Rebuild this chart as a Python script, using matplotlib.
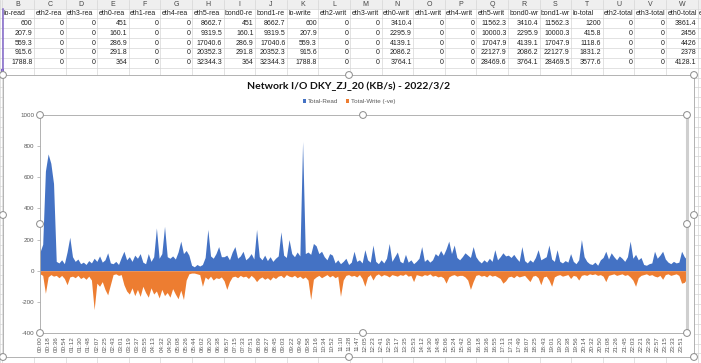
import numpy as np
import matplotlib
matplotlib.use('Agg')
import matplotlib.pyplot as plt
from matplotlib.patches import Rectangle, Circle
from matplotlib.transforms import Bbox

plt.rcParams['font.family'] = ['Liberation Sans', 'DejaVu Sans']
plt.rcParams['axes.unicode_minus'] = False

# spreadsheet part
col_letters = ['B', 'C', 'D', 'E', 'F', 'G', 'H', 'I', 'J', 'K', 'L', 'M',
               'N', 'O', 'P', 'Q', 'R', 'S', 'T', 'U', 'V', 'W', 'X']
col_names = ['lo-read', 'eth2-read', 'eth3-read', 'eth0-read', 'eth1-read',
             'eth4-read', 'eth5-read', 'bond0-read', 'bond1-read', 'lo-write',
             'eth2-write', 'eth3-write', 'eth0-write', 'eth1-write', 'eth4-write',
             'eth5-write', 'bond0-write', 'bond1-write', 'lo-total', 'eth2-total',
             'eth3-total', 'eth0-total', 'eth1-total']
row2 = ['600', '0', '0', '451', '0', '0', '8662.7', '451', '8662.7', '600', '0', '0',
        '3410.4', '0', '0', '11562.3', '3410.4', '11562.3', '1200', '0', '0', '3861.4', '']
row3 = ['207.9', '0', '0', '160.1', '0', '0', '9319.5', '160.1', '9319.5', '207.9', '0', '0',
        '2295.9', '0', '0', '10000.3', '2295.9', '10000.3', '415.8', '0', '0', '2456', '']
row4 = ['559.3', '0', '0', '286.9', '0', '0', '17040.6', '286.9', '17040.6', '559.3', '0', '0',
        '4139.1', '0', '0', '17047.9', '4139.1', '17047.9', '1118.6', '0', '0', '4426', '']
row5 = ['915.6', '0', '0', '291.8', '0', '0', '20352.3', '291.8', '20352.3', '915.6', '0', '0',
        '2086.2', '0', '0', '22127.9', '2086.2', '22127.9', '1831.2', '0', '0', '2378', '']
row6 = ['1788.8', '0', '0', '364', '0', '0', '32344.3', '364', '32344.3', '1788.8', '0', '0',
        '3764.1', '0', '0', '28469.6', '3764.1', '28469.5', '3577.6', '0', '0', '4128.1', '']
table_rows = [row2, row3, row4, row5, row6]

# chart part
title = 'Network I/O DKY_ZJ_20 (KB/s) - 2022/3/2'
times = ['00:00', '00:18', '00:36', '00:54', '01:12', '01:30', '01:48', '02:07', '02:25', '02:43',
         '03:01', '03:19', '03:37', '03:55', '04:13', '04:32', '04:50', '05:08', '05:26', '05:44',
         '06:02', '06:20', '06:38', '06:57', '07:15', '07:33', '07:51', '08:09', '08:27', '08:45',
         '09:03', '09:22', '09:40', '09:58', '10:16', '10:34', '10:52', '11:10', '11:28', '11:47',
         '12:05', '12:23', '12:41', '12:59', '13:17', '13:35', '13:53', '14:12', '14:30', '14:48',
         '15:06', '15:24', '15:42', '16:00', '16:18', '16:36', '16:55', '17:13', '17:31', '17:49',
         '18:07', '18:25', '18:43', '19:01', '19:20', '19:38', '19:56', '20:14', '20:32', '20:50',
         '21:08', '21:26', '21:45', '22:03', '22:21', '22:39', '22:57', '23:15', '23:33', '23:51']
points_per_label = 3

total_read = [120, 170, 640, 750, 690, 560, 60, 50, 70, 45, 120, 215,
              90, 60, 75, 45, 55, 40, 65, 50, 80, 60, 95, 55,
              70, 115, 50, 45, 60, 40, 85, 125, 70, 90, 60, 100,
              80, 110, 55, 45, 110, 60, 90, 275, 80, 110, 285, 90,
              80, 95, 75, 120, 190, 110, 130, 100, 35, 25, 40, 30,
              40, 85, 265, 95, 80, 110, 155, 90, 90, 100, 70, 120,
              155, 80, 95, 125, 70, 85, 110, 75, 265, 90, 70, 100,
              65, 90, 60, 80, 95, 250, 100, 85, 200, 110, 90, 120,
              95, 830, 110, 120, 105, 175, 160, 110, 125, 90, 70, 110,
              100, 50, 70, 45, 60, 80, 40, 55, 125, 60, 70, 50,
              135, 70, 55, 165, 60, 45, 70, 50, 80, 175, 60, 90,
              120, 60, 50, 105, 55, 70, 45, 60, 80, 155, 60, 75,
              55, 70, 110, 95, 130, 100, 140, 190, 110, 165, 85, 70,
              90, 115, 100, 85, 155, 90, 65, 50, 70, 55, 80, 60,
              135, 70, 90, 115, 95, 100, 85, 105, 80, 60, 155, 65,
              50, 70, 55, 85, 135, 70, 80, 90, 165, 75, 60, 135,
              60, 50, 65, 55, 110, 60, 45, 70, 200, 90, 60, 45,
              40, 55, 35, 70, 85, 125, 75, 115, 90, 70, 95, 80,
              60, 90, 190, 80, 105, 70, 85, 40, 35, 45, 50, 125,
              80, 100, 125, 75, 55, 45, 60, 50, 55, 125, 90, 70]

total_write = [-20, -30, -145, -40, -25, -35, -30, -45, -30, -50, -90, -40,
               -35, -45, -30, -50, -40, -55, -35, -60, -250, -80, -100, -70,
               -120, -155, -90, -25, -20, -30, -25, -90, -130, -150, -110, -160,
               -120, -165, -100, -140, -170, -110, -150, -130, -175, -120, -160, -140,
               -170, -115, -150, -180, -125, -185, -60, -20, -15, -15, -20, -25,
               -100, -40, -55, -35, -60, -45, -50, -40, -65, -120, -70, -40,
               -35, -45, -30, -40, -35, -50, -30, -45, -70, -50, -40, -55,
               -45, -60, -40, -50, -35, -30, -45, -25, -35, -40, -30, -45,
               -35, -50, -40, -60, -185, -55, -40, -30, -45, -35, -25, -40,
               -30, -45, -35, -165, -60, -30, -25, -35, -30, -40, -25, -50,
               -100, -40, -25, -60, -30, -20, -35, -25, -30, -40, -25, -30,
               -35, -25, -30, -20, -35, -30, -70, -25, -30, -35, -25, -30,
               -20, -35, -30, -40, -35, -45, -80, -40, -30, -25, -35, -30,
               -30, -40, -60, -120, -70, -30, -25, -35, -30, -40, -25, -35,
               -30, -40, -50, -80, -65, -40, -35, -45, -30, -40, -35, -30,
               -50, -70, -35, -30, -45, -90, -40, -35, -60, -100, -40, -30,
               -25, -35, -30, -25, -50, -30, -35, -60, -30, -25, -30, -20,
               -25, -20, -30, -25, -35, -70, -30, -25, -20, -30, -25, -20,
               -30, -25, -40, -60, -100, -45, -30, -25, -20, -30, -25, -35,
               -40, -30, -55, -25, -20, -30, -25, -20, -30, -80, -75, -50]

W, H = 701, 363
fig = plt.figure(figsize=(W / 100, H / 100), dpi=100)

# sheet background, drawn in pixel coordinates (y down)
sheet = fig.add_axes([0, 0, 1, 1])
sheet.set_xlim(0, W)
sheet.set_ylim(H, 0)
sheet.axis('off')

col_w = 31.6
left0 = 2.4
row_h = 9.85
top_h = 8.6
edges = [left0 + col_w * k for k in range(len(col_letters) + 1)]

sheet.add_patch(Rectangle((0, 0), W, top_h, facecolor='#efefef', edgecolor='none'))
for e in [0] + edges:
    sheet.plot([e, e], [0, H], color='#d6d6d6', lw=0.5)
for k in range(40):
    y = top_h + row_h * k
    sheet.plot([0, W], [y, y], color='#d6d6d6', lw=0.5)

header_texts = []
for i, letter in enumerate(col_letters):
    x0, x1 = edges[i], edges[i + 1]
    sheet.text((x0 + x1) / 2, top_h / 2 + 0.3, letter, ha='center', va='center',
               fontsize=5, color='#444444')
    t = sheet.text(x0 + 1.3, top_h + row_h / 2, col_names[i], ha='left', va='center',
                   fontsize=5, color='#222222')
    t.set_clip_on(True)
    t.set_clip_box(Bbox.from_extents(x0, H - top_h - row_h, x1 - 0.5, H - top_h))
    header_texts.append((t, min(x1 - 0.5, W)))
    for r, row in enumerate(table_rows):
        yc = top_h + row_h * (r + 1) + row_h / 2
        sheet.text(x1 - 1.5, yc, row[i], ha='right', va='center', fontsize=5,
                   color='#222222')

# header names are cut at the cell border like in the sheet
renderer = fig.canvas.get_renderer()
for t, limit in header_texts:
    s = t.get_text()
    while len(s) > 1 and t.get_window_extent(renderer).x1 > limit:
        s = s[:-1]
        t.set_text(s)

# category range highlight
sheet.plot([2.6, 2.6], [9, 70], color='#8064c8', lw=1.1)
sheet.add_patch(Rectangle((1.2, 69), 2.8, 2.8, facecolor='#8064c8', edgecolor='none'))

# chart area
sheet.add_patch(Rectangle((3, 75), 691, 282, facecolor='white', edgecolor='#a6a6a6',
                          lw=0.6, zorder=3))

# plot area
px0, px1, py0, py1 = 40, 687, 115, 333
ax = fig.add_axes([px0 / W, (H - py1) / H, (px1 - px0) / W, (py1 - py0) / H], zorder=5)
x = np.arange(len(total_read))
ax.fill_between(x, total_read, 0, color='#4472C4', lw=0, label='Total-Read')
ax.fill_between(x, total_write, 0, color='#ED7D31', lw=0, label='Total-Write (-ve)')
ax.set_xlim(0, len(total_read) - 1)
ax.set_ylim(-400, 1000)
ax.set_yticks(range(-400, 1001, 200))
ax.set_xticks(np.arange(len(times)) * points_per_label)
ax.set_xticklabels(times, rotation=90)
ax.tick_params(axis='x', length=0, pad=2.2, labelsize=4.5, labelcolor='#595959')
ax.tick_params(axis='y', length=2.2, width=0.5, color='#a6a6a6', pad=2,
               labelsize=4.5, labelcolor='#595959')
for s in ['left', 'top', 'bottom']:
    ax.spines[s].set_color('#a6a6a6')
    ax.spines[s].set_linewidth(0.6)
ax.spines['right'].set_color('#cfcfcf')
ax.spines['right'].set_linewidth(2.2)

ax.legend(loc='center', bbox_to_anchor=(0.478, 1.06), ncol=2, frameon=False,
          fontsize=4.5, handlelength=0.55, handleheight=0.55, handletextpad=0.3,
          columnspacing=1.2, borderpad=0, labelcolor='#595959')

# overlay: title and selection handles
top = fig.add_axes([0, 0, 1, 1], zorder=10)
top.set_xlim(0, W)
top.set_ylim(H, 0)
top.axis('off')
top.patch.set_alpha(0)
top.text(349, 86, title, ha='center', va='center', fontsize=7.5, fontweight='bold',
         fontfamily='Lato', color='#111111')

handles = [(3, 75), (349, 75), (694, 75), (3, 215), (694, 215), (3, 357), (349, 357), (694, 357),
           (40, 115), (363, 115), (687, 115), (40, 224), (687, 224), (40, 333), (363, 333), (687, 333)]
for hx, hy in handles:
    top.add_patch(Circle((hx, hy), 3.4, facecolor='white', edgecolor='#8c8c8c', lw=0.7))

fig.savefig('out.png', dpi=100)
